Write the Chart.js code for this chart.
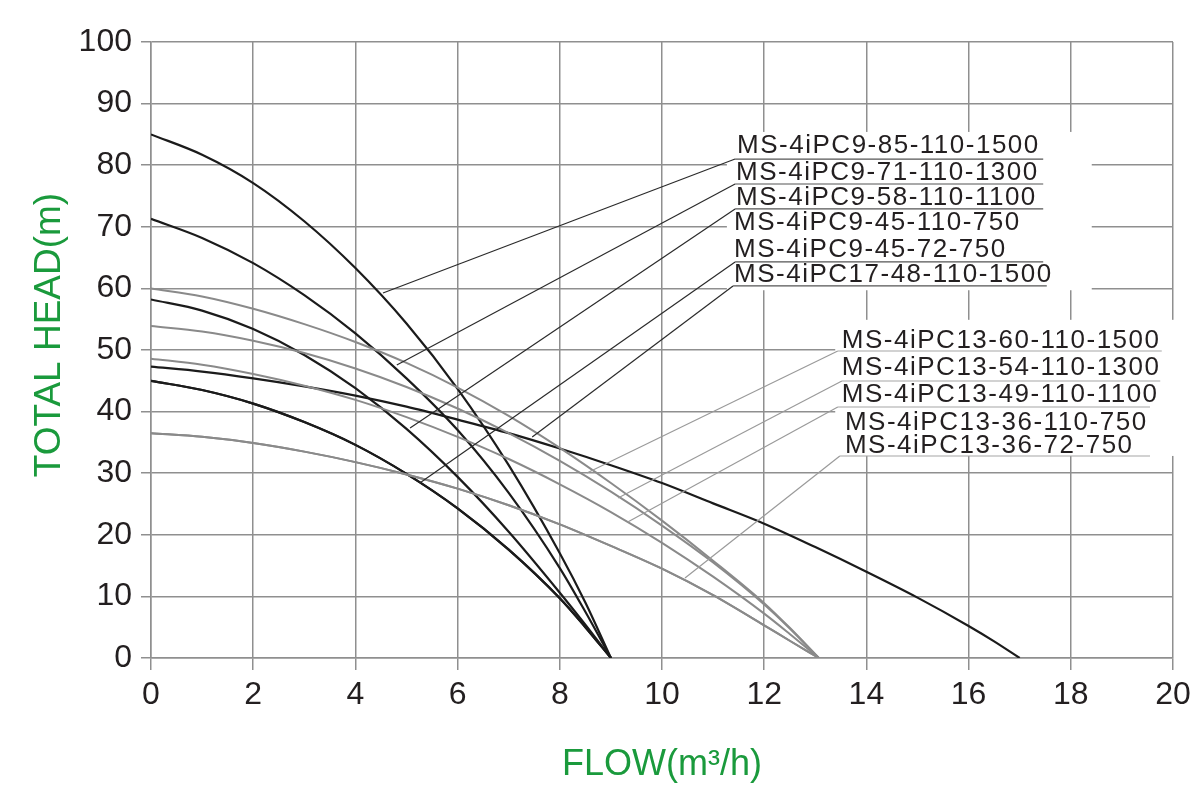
<!DOCTYPE html>
<html><head><meta charset="utf-8">
<script src="https://cdn.jsdelivr.net/npm/chart.js@4.4.1/dist/chart.umd.min.js"></script>
<style>html,body{margin:0;padding:0;background:#fff;}#wrap{width:1200px;height:800px;}</style>
</head><body><div id="wrap"><canvas id="c" width="1200" height="800"></canvas></div>
<script>
// ---- data (flow m3/h, head m) ----
const flow9 = [0, 1, 2, 3, 4, 5, 6, 7, 8, 8.5, 9];
const head9_85 = [85, 81.7, 77.1, 70.9, 63.3, 54.3, 43.7, 31.3, 17, 9, 0];
const head9_71 = [71.3, 68.2, 64.1, 58.9, 52.7, 45.4, 37, 26.8, 14.6, 7.5, 0];
const head9_58 = [58.2, 56.4, 53.4, 49.2, 43.8, 37.2, 29.4, 20.5, 10.6, 5.4, 0];
const head9_45 = [45, 43.5, 41.3, 38.3, 34.6, 29.9, 24.3, 17.6, 9.7, 5, 0];
const flow17 = [0, 1, 2, 3, 4, 5, 6, 7, 8, 9, 10, 11, 12, 13, 14, 15, 16, 16.5, 17];
const head17_48 = [47.3, 46.5, 45.4, 44.1, 42.6, 40.8, 38.7, 36.5, 34, 31.3, 28.4, 25.1, 21.8, 18, 14, 9.8, 5.2, 2.7, 0];
const flow13 = [0, 1, 2, 3, 4, 5, 6, 7, 8, 9, 10, 11, 12, 12.5, 13.07];
const head13_60 = [60, 58.7, 56.7, 54.2, 51.3, 47.9, 43.9, 39.3, 34.1, 28.4, 22.3, 15.8, 8.9, 4.9, 0];
const head13_54 = [53.9, 53, 51.5, 49.5, 47, 44, 40.5, 36.5, 32, 27, 21.5, 15.5, 8.7, 4.8, 0];
const head13_49 = [48.6, 47.6, 46.1, 44.2, 41.9, 39.1, 35.9, 32.3, 28.2, 23.7, 18.7, 13.2, 7.2, 3.9, 0];
const head13_36 = [36.5, 35.9, 34.9, 33.5, 31.8, 29.8, 27.5, 24.8, 21.7, 18.2, 14.5, 10.2, 5.3, 2.8, 0];

const models9 = ['MS-4iPC9-85-110-1500', 'MS-4iPC9-71-110-1300', 'MS-4iPC9-58-110-1100', 'MS-4iPC9-45-110-750', 'MS-4iPC9-45-72-750', 'MS-4iPC17-48-110-1500'];
const models13 = ['MS-4iPC13-60-110-1500', 'MS-4iPC13-54-110-1300', 'MS-4iPC13-49-110-1100', 'MS-4iPC13-36-110-750', 'MS-4iPC13-36-72-750'];

const xTicks = [0, 2, 4, 6, 8, 10, 12, 14, 16, 18, 20];
const yTicks = [0, 10, 20, 30, 40, 50, 60, 70, 80, 90, 100];

// ---- annotation layout (in axis units) ----
const labelPos9 = [[11.47, 81.93], [11.45, 77.6], [11.45, 73.54], [11.41, 69.48], [11.41, 65.15], [11.41, 61.09]];
const labelPos13 = [[13.52, 50.32], [13.52, 45.94], [13.52, 41.56], [13.58, 37.01], [13.58, 33.28]];
const underline9 = [[11.43, 17.46, 81.0], [11.43, 17.46, 76.95], [11.43, 17.46, 72.9], [11.43, 17.46, 64.3], [11.39, 17.53, 60.4]];
const underline13 = [[13.44, 19.78, 49.84], [13.52, 19.75, 44.97], [13.44, 19.55, 40.75], [13.48, 19.55, 32.79]];
const leader9 = [[11.43, 81.0, 4.54, 59.25], [11.43, 76.95, 4.81, 47.56], [11.43, 72.9, 5.07, 37.34], [11.43, 64.3, 5.26, 28.4], [11.39, 60.4, 7.46, 35.88]];
const leader13 = [[13.44, 49.84, 8.53, 30.03], [13.52, 44.97, 9.14, 25.97], [13.44, 40.75, 9.33, 22.08], [13.48, 32.79, 10.45, 12.99]];
const maskBoxes = [[11.27, 18.41, 59.7, 85.4], [13.39, 20.15, 32.8, 54.9]];

const BLACK = '#1b1b1b', GRAY = '#8a8a8a', GRID = '#8f8f8f', GREEN = '#1a9a3c', TEXT = '#231f20';
const FONT = "'Liberation Sans', Arial, sans-serif";

function pts(xs, ys) { return xs.map((v, i) => ({x: v, y: ys[i]})); }
function ds(label, xs, ys, color) {
  return {label, data: pts(xs, ys), showLine: true, borderColor: color, borderWidth: color === BLACK ? 2.2 : 2,
    pointRadius: 0, cubicInterpolationMode: 'monotone', fill: false};
}
const datasets = [
  ds(models13[0], flow13, head13_60, GRAY),
  ds(models13[1], flow13, head13_54, GRAY),
  ds(models13[2], flow13, head13_49, GRAY),
  ds(models13[3], flow13, head13_36, GRAY),
  ds(models13[4], flow13, head13_36, GRAY),
  ds(models9[0], flow9, head9_85, BLACK),
  ds(models9[1], flow9, head9_71, BLACK),
  ds(models9[2], flow9, head9_58, BLACK),
  ds(models9[3], flow9, head9_45, BLACK),
  ds(models9[4], flow9, head9_45, BLACK),
  ds(models9[5], flow17, head17_48, BLACK)
];

const annot = {
  id: 'annot',
  afterDatasetsDraw(chart) {
    const {ctx, scales: {x, y}} = chart;
    const px = v => x.getPixelForValue(v), py = v => y.getPixelForValue(v);
    ctx.save();
    ctx.fillStyle = '#fff';
    maskBoxes.forEach(b => ctx.fillRect(px(b[0]), py(b[3]), px(b[1]) - px(b[0]), py(b[2]) - py(b[3])));
    const line = (a, color, w) => { ctx.beginPath(); ctx.strokeStyle = color; ctx.lineWidth = w; ctx.moveTo(px(a[0]), py(a[1])); ctx.lineTo(px(a[2]), py(a[3])); ctx.stroke(); };
    leader9.forEach(a => line(a, '#2a2a2a', 1.2));
    leader13.forEach(a => line(a, '#9a9a9a', 1.2));
    underline9.forEach(u => line([u[0], u[2], u[1], u[2]], '#555', 1.2));
    underline13.forEach(u => line([u[0], u[2], u[1], u[2]], '#a5a5a5', 1.2));
    ctx.fillStyle = TEXT;
    ctx.font = '26px ' + FONT;
    ctx.textAlign = 'left';
    ctx.textBaseline = 'alphabetic';
    try { ctx.letterSpacing = '1.5px'; } catch (e) {}
    models9.forEach((t, i) => ctx.fillText(t, px(labelPos9[i][0]), py(labelPos9[i][1])));
    models13.forEach((t, i) => ctx.fillText(t, px(labelPos13[i][0]), py(labelPos13[i][1])));
    try { ctx.letterSpacing = '0px'; } catch (e) {}
    // y axis title
    ctx.translate(50, 335);
    ctx.rotate(-Math.PI / 2);
    ctx.font = '37px ' + FONT;
    ctx.fillStyle = GREEN;
    ctx.textAlign = 'center';
    ctx.textBaseline = 'middle';
    ctx.fillText('TOTAL HEAD(m)', 0, 0);
    ctx.restore();
  }
};

new Chart(document.getElementById('c'), {
  type: 'scatter',
  data: {datasets},
  options: {
    responsive: false, animation: false, events: [],
    layout: {padding: {top: 42, right: 27, left: 0, bottom: 0}},
    plugins: {legend: {display: false}, tooltip: {enabled: false}},
    scales: {
      x: {
        type: 'linear', min: xTicks[0], max: xTicks[xTicks.length - 1],
        afterBuildTicks(s) { s.ticks = xTicks.map(v => ({value: v})); },
        ticks: {font: {family: FONT, size: 32}, color: TEXT, padding: 6, maxRotation: 0, autoSkip: false},
        grid: {color: GRID, lineWidth: 1.5, tickLength: 12},
        border: {color: GRID, width: 1.5},
        title: {display: true, text: 'FLOW(m³/h)', color: GREEN, font: {family: FONT, size: 36, lineHeight: 1}, padding: {top: 0, bottom: 17}},
        afterFit(s) { s.height = 142; }
      },
      y: {
        type: 'linear', min: yTicks[0], max: yTicks[yTicks.length - 1],
        afterBuildTicks(s) { s.ticks = yTicks.map(v => ({value: v})); },
        ticks: {font: {family: FONT, size: 32}, color: TEXT, padding: 9, autoSkip: false},
        grid: {color: GRID, lineWidth: 1.5, tickLength: 10},
        border: {color: GRID, width: 1.5},
        afterFit(s) { s.width = 151; }
      }
    }
  },
  plugins: [annot]
});
</script></body></html>
